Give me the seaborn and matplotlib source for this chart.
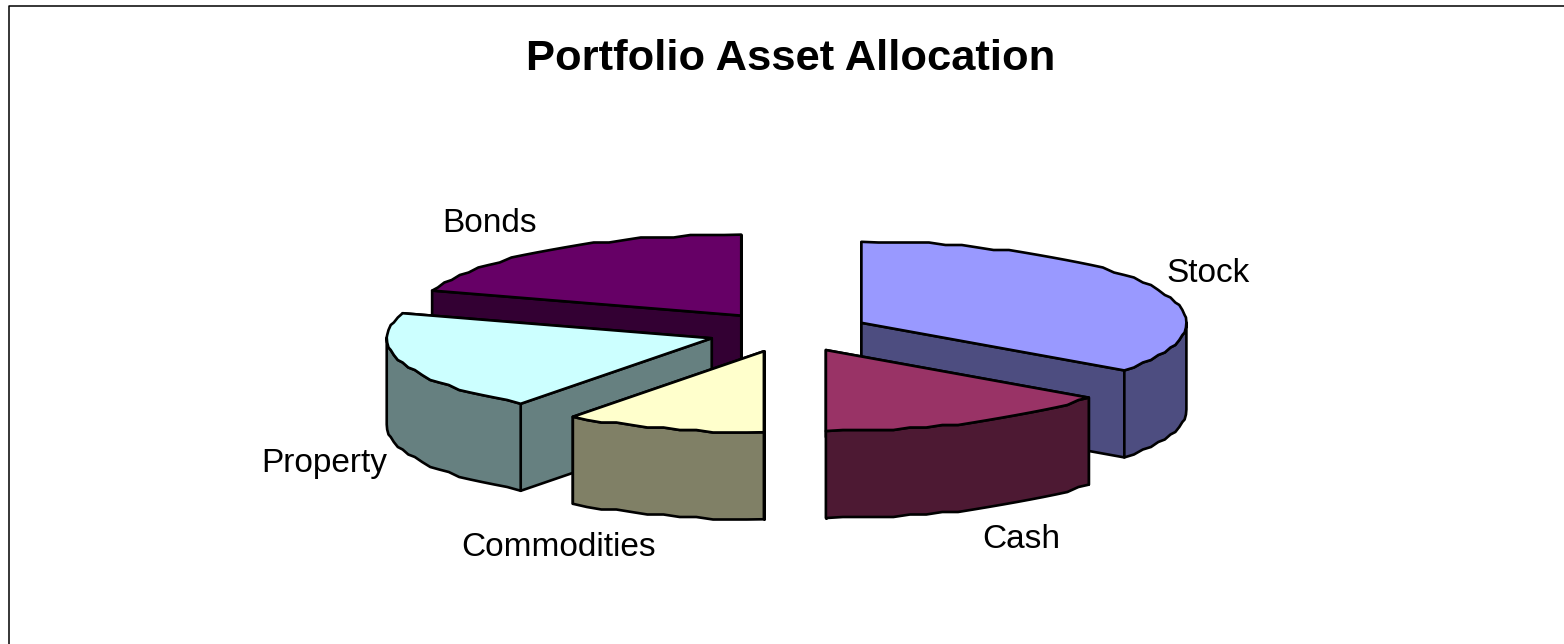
import numpy as np
import matplotlib.pyplot as plt
import seaborn as sns
from matplotlib.patches import Polygon

# slices run clockwise from 12 o'clock
labels = ['Stock', 'Cash', 'Commodities', 'Property', 'Bonds']
shares = [35, 15, 10, 20, 20]
top_colors = ['#9999FF', '#993366', '#FFFFCC', '#CCFFFF', '#660066']
side_colors = ['#4D4D80', '#4D1933', '#808066', '#668080', '#330033']

# pie geometry in pixels
CX, CY = 789, 332
RX, RY = 325, 81
DEPTH = 87
EXPLODE = 0.25
SNAP = 2.5  # the old renderer steps its curves

LABEL_POS = {'Stock': (1208, 273), 'Cash': (1021, 539), 'Commodities': (559, 548),
             'Property': (324, 463), 'Bonds': (490, 223)}
DRAW_ORDER = ['Bonds', 'Property', 'Stock', 'Cash', 'Commodities']


def rim(theta, apex):
    x = apex[0] + RX * np.sin(theta)
    y = apex[1] - RY * np.cos(theta)
    return np.column_stack([x, np.round(y / SNAP) * SNAP])


def draw_slice(ax, start, end, top, side):
    mid = (start + end) / 2
    apex = (CX + EXPLODE * RX * np.sin(mid), CY - EXPLODE * RY * np.cos(mid))
    theta = np.linspace(start, end, max(int(np.degrees(end - start) / 3), 2) + 1)
    arc = rim(theta, apex)
    arc[0] = [apex[0] + RX * np.sin(start), apex[1] - RY * np.cos(start)]
    arc[-1] = [apex[0] + RX * np.sin(end), apex[1] - RY * np.cos(end)]
    drop = np.array([0, DEPTH])
    style = dict(edgecolor='black', linewidth=1.9, joinstyle='round')

    # radial cut faces, the one further back first
    for edge in sorted((arc[0], arc[-1]), key=lambda p: p[1]):
        quad = [apex, edge, edge + drop, np.array(apex) + drop]
        ax.add_patch(Polygon(quad, facecolor=side, **style))

    # outer wall, only the part in front of the widest points
    front = (theta >= np.pi / 2) & (theta <= 3 * np.pi / 2)
    if front.sum() >= 2:
        wall = arc[front]
        ax.add_patch(Polygon(np.vstack([wall, (wall + drop)[::-1]]), facecolor=side, **style))

    ax.add_patch(Polygon(np.vstack([[apex], arc]), facecolor=top, **style))


sns.set_theme(style='white')
plt.rcParams['font.family'] = ['Liberation Sans', 'DejaVu Sans']

fig = plt.figure(figsize=(15.64, 6.44), dpi=100)
ax = fig.add_axes([0, 0, 1, 1])
ax.set_xlim(0, 1564)
ax.set_ylim(644, 0)
ax.axis('off')

# chart frame only shows on top and left
ax.plot([1564, 8.5, 8.5], [5.5, 5.5, 644], color='black', linewidth=1.1)

edges = np.radians(np.cumsum([0] + shares) / sum(shares) * 360)
for name in DRAW_ORDER:
    i = labels.index(name)
    draw_slice(ax, edges[i], edges[i + 1], top_colors[i], side_colors[i])
    ax.text(*LABEL_POS[name], name, fontsize=24, color='black', ha='center', va='center')

ax.text(791, 59, 'Portfolio Asset Allocation', fontsize=31.3, fontweight='bold',
        color='black', ha='center', va='center')

fig.savefig('out.png', dpi=100)
